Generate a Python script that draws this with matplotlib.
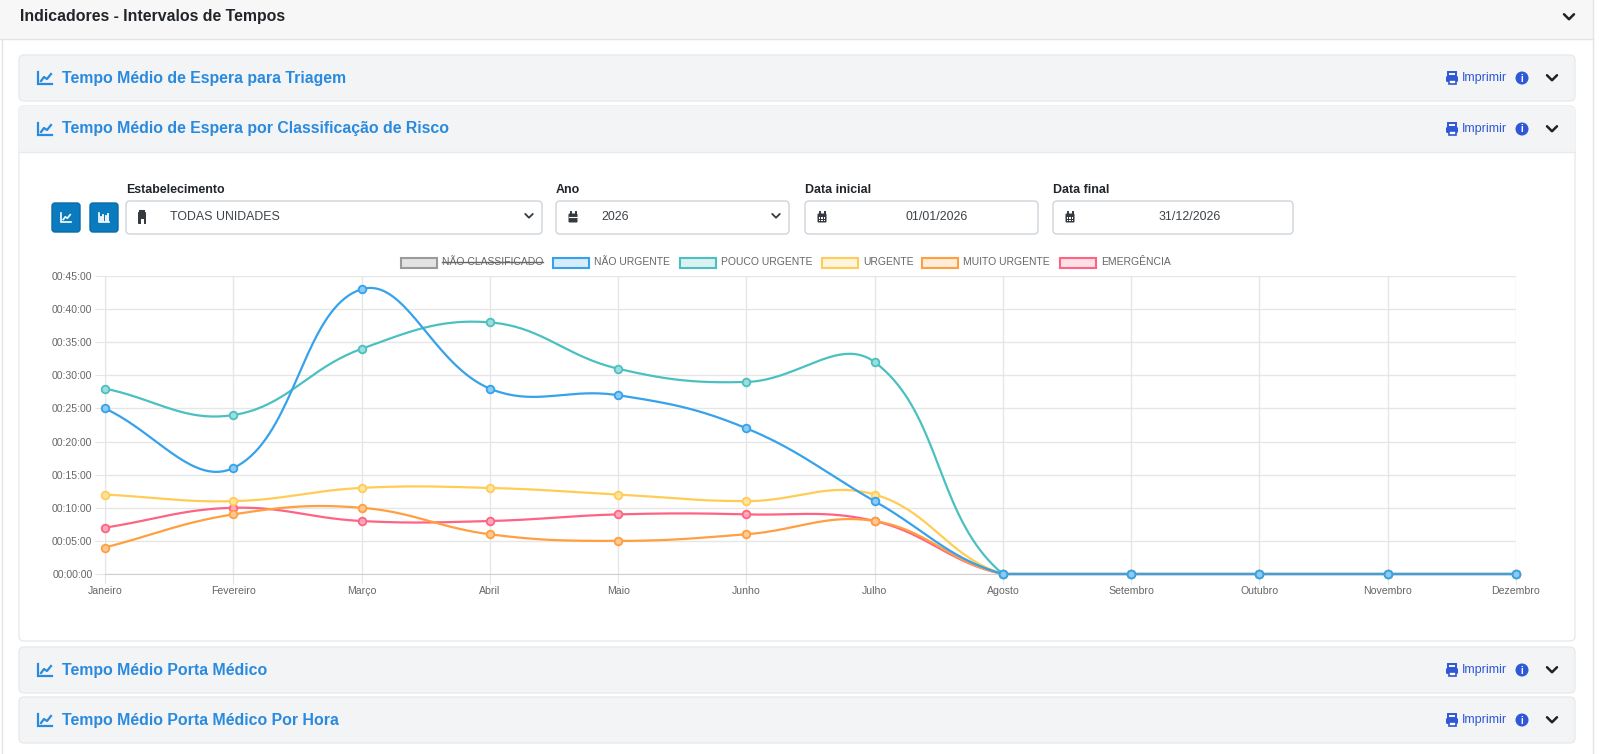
import matplotlib.pyplot as plt
from matplotlib.patches import FancyBboxPatch, Rectangle, Circle
import numpy as np

plt.rcParams['font.family'] = ['Liberation Sans', 'DejaVu Sans']

# dados (minutos)
meses = ['Janeiro', 'Fevereiro', 'Março', 'Abril', 'Maio', 'Junho', 'Julho',
         'Agosto', 'Setembro', 'Outubro', 'Novembro', 'Dezembro']
nao_urgente = [25, 16, 43, 28, 27, 22, 11, 0, 0, 0, 0, 0]
pouco_urgente = [28, 24, 34, 38, 31, 29, 32, 0, 0, 0, 0, 0]
urgente = [12, 11, 13, 13, 12, 11, 12, 0, 0, 0, 0, 0]
muito_urgente = [4, 9, 10, 6, 5, 6, 8, 0, 0, 0, 0, 0]
emergencia = [7, 10, 8, 8, 9, 9, 8, 0, 0, 0, 0, 0]

nomes = ['NÃO CLASSIFICADO', 'NÃO URGENTE', 'POUCO URGENTE', 'URGENTE', 'MUITO URGENTE', 'EMERGÊNCIA']
cores = ['#9a9a9a', '#36a2eb', '#4bc0c0', '#ffcd56', '#ff9f40', '#ff6384']
fundos = ['#e3e3e3', '#d7ecfb', '#dbf2f2', '#fff5dd', '#ffecd9', '#ffe0e6']
marcas = ['#cccccc', '#8ccbf4', '#9fdcdc', '#ffe3a0', '#ffc993', '#ffaabb']
series = [None, nao_urgente, pouco_urgente, urgente, muito_urgente, emergencia]  # nao classificado oculto

marcas_y = list(range(0, 46, 5))
rotulos_y = ['00:%02d:00' % m for m in marcas_y]

AZUL = '#2a8ade'
IMPR = '#2f57d6'
ESCURO = '#212529'

fig = plt.figure(figsize=(16, 7.54), dpi=100)
bg = fig.add_axes([0, 0, 1, 1])
bg.set_xlim(0, 1600)
bg.set_ylim(754, 0)
bg.axis('off')


def caixa(x0, y0, x1, y1, fc, ec='none', r=4, lw=1, z=1):
    bg.add_patch(FancyBboxPatch((x0, y0), x1 - x0, y1 - y0,
                                boxstyle='round,pad=0,rounding_size=%s' % r,
                                fc=fc, ec=ec, lw=lw, zorder=z))


def icone_grafico(x, y, cor, lw=1.6, s=1.0):
    bg.plot([x - 7 * s, x - 7 * s, x + 7 * s], [y - 6 * s, y + 6 * s, y + 6 * s], color=cor, lw=lw,
            zorder=5, solid_joinstyle='miter')
    bg.plot([x - 4 * s, x - 1 * s, x + 2 * s, x + 6 * s], [y + 3 * s, y - 1 * s, y + 1 * s, y - 4 * s],
            color=cor, lw=lw, zorder=5)


def icone_barras(x, y, cor, s=0.75):
    bg.plot([x - 7 * s, x - 7 * s, x + 7 * s], [y - 6 * s, y + 6 * s, y + 6 * s], color=cor, lw=1.2, zorder=5)
    for dx, h in [(-4, 5), (-1, 8), (2, 6), (5, 9)]:
        bg.plot([x + dx * s, x + dx * s], [y + 4 * s, y + (4 - h) * s], color=cor, lw=1.3, zorder=5)


def chevron(x, y, cor='#222222', w=5, lw=1.8):
    bg.plot([x - w, x, x + w], [y - w * 0.55, y + w * 0.45, y - w * 0.55], color=cor, lw=lw,
            zorder=5, solid_capstyle='round')


def imprimir(y):
    x = 1452
    caixa(x - 6, y - 2, x + 6, y + 4, IMPR, r=1.5, z=5)
    bg.add_patch(Rectangle((x - 4, y - 6), 8, 4, fc='none', ec=IMPR, lw=1.4, zorder=5))
    bg.add_patch(Rectangle((x - 3.5, y + 1.5), 7, 4, fc='white', ec=IMPR, lw=1.2, zorder=6))
    bg.text(1462, y, 'Imprimir', color=IMPR, fontsize=9, va='center', ha='left', zorder=5)
    bg.add_patch(Circle((1522, y), 6.5, fc=IMPR, ec='none', zorder=5))
    bg.text(1522, y + 0.5, 'i', color='white', fontsize=7, fontweight='bold', ha='center',
            va='center', zorder=6)
    chevron(1552, y)


def painel(y0, y1, titulo):
    caixa(19, y0, 1575, y1, '#f3f4f6', ec='#e9eaec', r=5)
    yc = (y0 + y1) / 2
    icone_grafico(45, yc, AZUL)
    bg.text(62, yc, titulo, color=AZUL, fontsize=11.4, fontweight='bold', va='center', zorder=5)
    imprimir(yc)


def calendario(x, y, grade=False):
    caixa(x - 4.5, y - 4, x + 4.5, y + 5, '#343a40', r=1, z=5)
    bg.plot([x - 2.5, x - 2.5], [y - 6, y - 3], color='#343a40', lw=1.4, zorder=5)
    bg.plot([x + 2.5, x + 2.5], [y - 6, y - 3], color='#343a40', lw=1.4, zorder=5)
    if grade:
        for yy in [y + 0.5, y + 3]:
            for xx in [x - 2.5, x, x + 2.5]:
                bg.add_patch(Rectangle((xx - 0.7, yy - 0.7), 1.4, 1.4, fc='white', ec='none', zorder=6))
    else:
        bg.plot([x - 4.5, x + 4.5], [y - 1, y - 1], color='white', lw=0.8, zorder=6)


# cabecalho externo
bg.add_patch(Rectangle((0, 0), 1593, 39, fc='#f7f7f8', ec='none', zorder=0))
bg.plot([0, 1593], [39, 39], color='#e4e4e4', lw=1, zorder=1)
bg.plot([2, 2], [39, 754], color='#e4e4e4', lw=1, zorder=1)
bg.plot([1593, 1593], [0, 754], color='#e4e4e4', lw=1, zorder=1)
bg.text(19.5, 17, 'Indicadores - Intervalos de Tempos', color=ESCURO, fontsize=11.4,
        fontweight='bold', va='center')
chevron(1569, 17)

painel(55, 101, 'Tempo Médio de Espera para Triagem')

# painel com o grafico
caixa(19, 106, 1575, 641, 'white', ec='#e9eaec', r=5)
caixa(19, 106, 1575, 152, '#f3f4f6', ec='none', r=5)
bg.add_patch(Rectangle((19.5, 140), 1555, 12, fc='#f3f4f6', ec='none', zorder=1))
bg.plot([19, 1575], [152, 152], color='#e9eaec', lw=1, zorder=2)
icone_grafico(45, 129, AZUL)
bg.text(62, 129, 'Tempo Médio de Espera por Classificação de Risco', color=AZUL, fontsize=11.4,
        fontweight='bold', va='center', zorder=5)
imprimir(129)

painel(647, 693, 'Tempo Médio Porta Médico')
painel(697, 743, 'Tempo Médio Porta Médico Por Hora')

# filtros
for x0 in [52, 90]:
    caixa(x0, 203, x0 + 28, 232, '#0b7bc0', ec='#0a6aa6', r=3, z=3)
icone_grafico(66, 217.5, 'white', lw=1.2, s=0.7)
icone_barras(104, 217.5, 'white')

campos = [('Estabelecimento', 126, 542), ('Ano', 556, 789), ('Data inicial', 805, 1038), ('Data final', 1053, 1293)]
for rot, x0, x1 in campos:
    bg.text(x0, 190, rot, color=ESCURO, fontsize=8.9, fontweight='bold', va='center')
    caixa(x0, 201, x1, 234, 'white', ec='#ced4da', r=4, z=3)

# icone unidade
caixa(138, 212, 146, 224, '#343a40', r=0.8, z=5)
bg.plot([140, 144], [210.5, 210.5], color='#343a40', lw=1.5, zorder=5)
bg.add_patch(Rectangle((140.5, 219), 3, 5, fc='white', ec='none', zorder=6))
bg.text(169.5, 217.5, 'TODAS UNIDADES', color='#3d4349', fontsize=8.9, va='center', zorder=5)
chevron(529, 216, '#343a40', w=3.8, lw=1.3)

calendario(573, 217.5)
bg.text(601, 217.5, '2026', color='#3d4349', fontsize=8.9, va='center', zorder=5)
chevron(776, 216, '#343a40', w=3.8, lw=1.3)

calendario(822, 217.5, grade=True)
bg.text(937, 217.5, '01/01/2026', color='#3d4349', fontsize=8.9, va='center', ha='center', zorder=5)
calendario(1070, 217.5, grade=True)
bg.text(1190, 217.5, '31/12/2026', color='#3d4349', fontsize=8.9, va='center', ha='center', zorder=5)

# legenda
leg_x = [401, 553, 680, 822, 922, 1060]
fig.canvas.draw()
rend = fig.canvas.get_renderer()
for i, nome in enumerate(nomes):
    x = leg_x[i]
    bg.add_patch(Rectangle((x, 257.5), 36, 10.5, fc=fundos[i], ec=cores[i], lw=1.5, zorder=3))
    t = bg.text(x + 41, 262, nome, color='#666666', fontsize=7.5, va='center', zorder=3)
    if series[i] is None:
        bb = t.get_window_extent(renderer=rend)
        bg.plot([bb.x0, bb.x1], [262, 262], color='#666666', lw=1, zorder=4)

# grafico
ax = fig.add_axes([105 / 1600, (754 - 574) / 754, (1516 - 105) / 1600, (574 - 276) / 754])
ax.set_facecolor('none')
ax.set_zorder(2)
ax.set_xlim(0, 11)
ax.set_ylim(0, 45)
ax.set_xticks(range(len(meses)))
ax.set_xticklabels(meses)
ax.set_yticks(marcas_y)
ax.set_yticklabels(rotulos_y)
ax.grid(True, color='#e6e6e6', lw=1)
ax.set_axisbelow(True)
ax.tick_params(length=7, color='#e6e6e6', labelsize=7.6, labelcolor='#666666', pad=2)
for lado in ['top', 'right']:
    ax.spines[lado].set_visible(False)
ax.spines['left'].set_color('#e6e6e6')
ax.spines['bottom'].set_color('#cfcfcf')


def curva_chartjs(xs, ys, t=0.4, n=40):
    # curva bezier igual ao Chart.js (tension 0.4), calculada em pixels
    pts = ax.transData.transform(np.column_stack([xs, ys]))
    m = len(pts)
    cp_a = np.zeros_like(pts)
    cp_d = np.zeros_like(pts)
    for i in range(m):
        ant = pts[i - 1] if i > 0 else pts[i]
        prox = pts[i + 1] if i < m - 1 else pts[i]
        d01 = np.hypot(*(pts[i] - ant))
        d12 = np.hypot(*(prox - pts[i]))
        tot = d01 + d12
        s01 = d01 / tot if tot else 0
        s12 = d12 / tot if tot else 0
        cp_a[i] = pts[i] - t * s01 * (prox - ant)
        cp_d[i] = pts[i] + t * s12 * (prox - ant)
    box = ax.bbox
    for cp in (cp_a, cp_d):
        cp[:, 0] = np.clip(cp[:, 0], box.x0, box.x1)
        cp[:, 1] = np.clip(cp[:, 1], box.y0, box.y1)
    u = np.linspace(0, 1, n)[:, None]
    partes = []
    for i in range(m - 1):
        p0, p1, p2, p3 = pts[i], cp_d[i], cp_a[i + 1], pts[i + 1]
        b = (1 - u) ** 3 * p0 + 3 * (1 - u) ** 2 * u * p1 + 3 * (1 - u) * u ** 2 * p2 + u ** 3 * p3
        partes.append(b if i == 0 else b[1:])
    return ax.transData.inverted().transform(np.vstack(partes))


xs = np.arange(len(meses))
for i, vals in enumerate(series):
    if vals is None:
        continue
    c = curva_chartjs(xs, vals)
    ax.plot(c[:, 0], c[:, 1], color=cores[i], lw=1.6, zorder=10 - i, clip_on=False)
    ax.plot(xs, vals, 'o', ms=5.5, mfc=marcas[i], mec=cores[i], mew=1.3, zorder=10 - i, clip_on=False)

fig.savefig('out.png', dpi=100)
